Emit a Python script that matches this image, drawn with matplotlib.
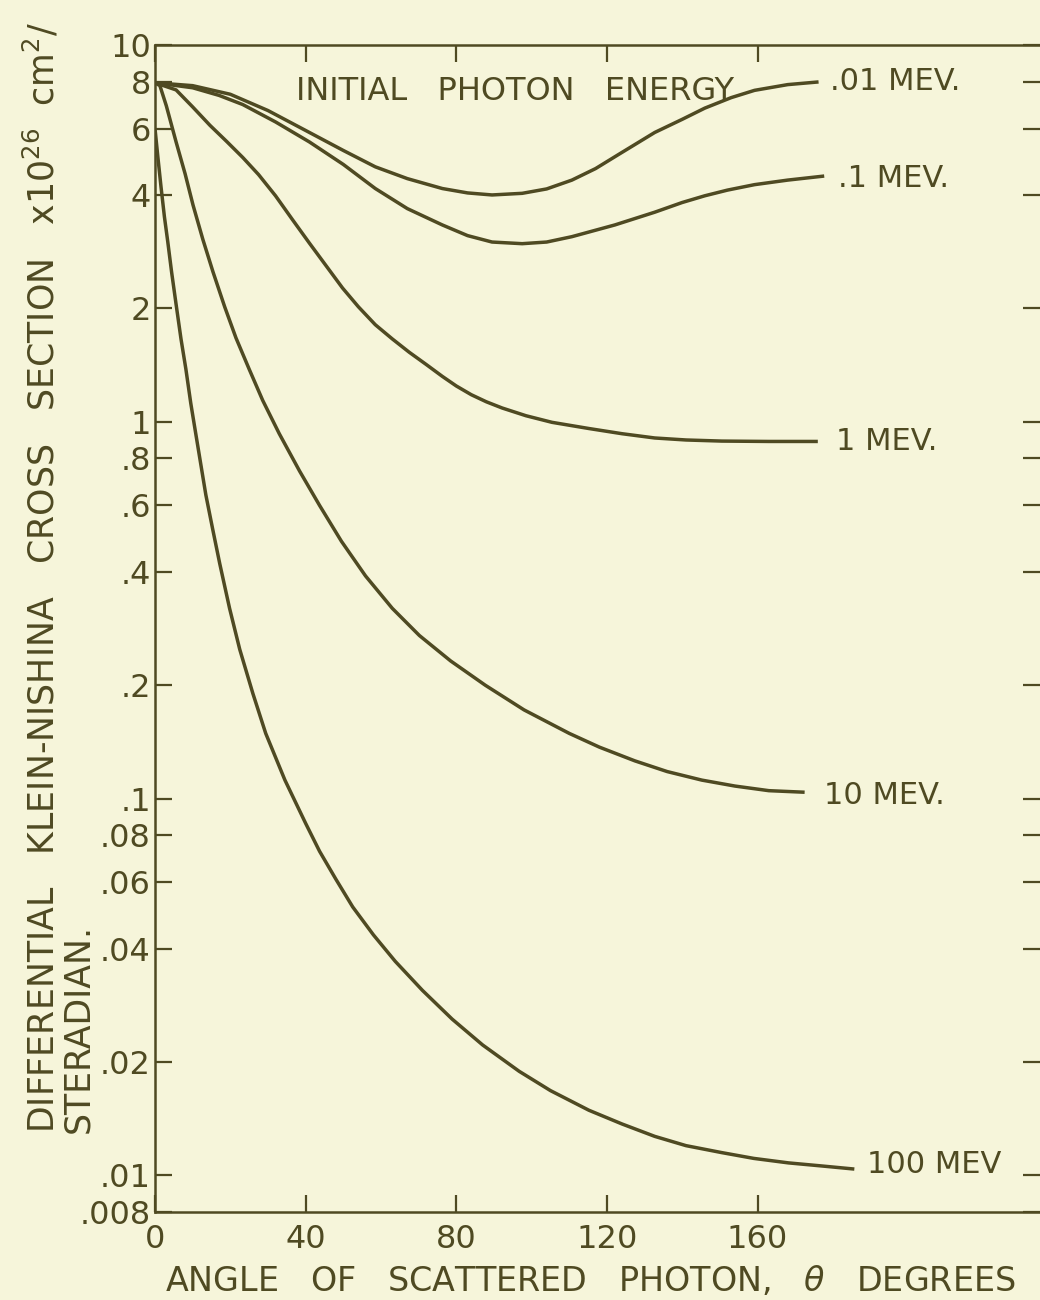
import numpy as np
import matplotlib.pyplot as plt
from matplotlib.ticker import NullLocator

# --------------------------------------------------
# Values (angle in degrees, cross section x 1e-26 cm^2/sr)
# --------------------------------------------------
angle_001 = [0, 10, 20, 30, 41, 50, 58.5, 67, 76.3, 83, 89.5, 97.5, 104, 110.7, 117, 123.2,
             132.7, 140, 146, 153, 159.2, 168, 176.2]
sigma_001 = [7.94, 7.8, 7.4, 6.7, 5.86, 5.25, 4.75, 4.42, 4.16, 4.05, 4.0, 4.04, 4.15, 4.38, 4.7, 5.13,
             5.86, 6.35, 6.8, 7.25, 7.58, 7.85, 7.98]

angle_01 = [0, 10, 17, 23.3, 32, 41, 50, 58.5, 67, 76.3, 83, 89.5, 97.5, 104, 110.7, 122.1,
            132.7, 140, 146, 152, 159.2, 168, 177.7]
sigma_01 = [7.94, 7.7, 7.35, 6.95, 6.25, 5.53, 4.82, 4.16, 3.68, 3.33, 3.12, 3.0, 2.97, 3.0, 3.10, 3.33,
            3.60, 3.82, 3.98, 4.12, 4.26, 4.38, 4.49]

angle_1 = [0, 5.6, 10, 14.6, 19, 23.3, 27.5, 32, 36.5, 41, 45.5, 49.8, 54, 58.5, 63, 67.5, 72,
           76.3, 80, 84, 88, 92.2, 98.5, 105.4, 115.2, 124, 132.7, 141, 150.5, 163, 176]
sigma_1 = [7.94, 7.6, 6.85, 6.12, 5.55, 5.03, 4.53, 3.98, 3.44, 2.98, 2.59, 2.265, 2.02, 1.81, 1.66, 1.53,
           1.42, 1.32, 1.245, 1.18, 1.13, 1.088, 1.038, 0.997, 0.96, 0.93, 0.906, 0.895, 0.889, 0.887,
           0.887]

angle_10 = [0, 1.3, 3, 5.6, 8, 10.1, 12.7, 15.4, 18.5, 21.5, 25, 28.6, 33, 38.4, 43.7, 49.5, 55.9,
            63, 70.2, 78.5, 87.7, 98, 110, 118, 127.4, 136, 145.2, 154, 163, 172.5]
sigma_10 = [7.94, 7.8, 6.9, 5.53, 4.55, 3.76, 3.05, 2.50, 2.02, 1.67, 1.38, 1.14, 0.93, 0.74, 0.60, 0.482,
            0.39, 0.32, 0.271, 0.232, 0.20, 0.172, 0.149, 0.137, 0.126, 0.118, 0.112, 0.108, 0.105,
            0.104]

angle_100 = [0, 0.8, 1.6, 2.5, 3.4, 4.4, 5.6, 6.9, 8.2, 9.5, 10.9, 13.5, 15.3, 17.2, 19.8, 22.5, 26,
             29.4, 34.5, 40, 43.7, 48, 52.5, 58, 63.8, 71, 78.9, 87, 96.7, 105, 115.2, 124, 132.7,
             141, 150.5, 159, 168.2, 177, 185.7]
sigma_100 = [6.0, 5.0, 4.2, 3.5, 3.0, 2.5, 2.05, 1.66, 1.38, 1.12, 0.92, 0.64, 0.52, 0.42, 0.32, 0.249,
             0.19, 0.149, 0.112, 0.086, 0.0725, 0.0612, 0.0516, 0.0435, 0.037, 0.031, 0.026, 0.0222,
             0.0189, 0.0168, 0.0149, 0.0137, 0.0127, 0.012, 0.0115, 0.0111, 0.0108, 0.0106, 0.0104]

energy_labels = [".01 MEV.", ".1 MEV.", "1 MEV.", "10 MEV.", "100 MEV"]

x_ticks = [0, 40, 80, 120, 160]
x_tick_labels = ["0", "40", "80", "120", "160"]
y_ticks = [10, 8, 6, 4, 2, 1, 0.8, 0.6, 0.4, 0.2, 0.1, 0.08, 0.06, 0.04, 0.02, 0.01, 0.008]
y_tick_labels = ["10", "8", "6", "4", "2", "1", ".8", ".6", ".4", ".2", ".1",
                 ".08", ".06", ".04", ".02", ".01", ".008"]

# --------------------------------------------------
# Figure
# --------------------------------------------------
ink = "#4f4a22"
paper = "#f6f5da"
W, H = 1040, 1300

fig = plt.figure(figsize=(W / 100, H / 100), dpi=100, facecolor=paper)
ax = fig.add_axes([155 / W, 1 - 1212 / H, 1 - 155 / W, (1212 - 45) / H])
ax.set_facecolor(paper)
ax.set_yscale("log")
ax.set_xlim(0, 235)
ax.set_ylim(0.008, 10)

curves = [
    (angle_001, sigma_001),
    (angle_01, sigma_01),
    (angle_1, sigma_1),
    (angle_10, sigma_10),
    (angle_100, sigma_100),
]
# label offsets from each curve end, in points
label_offsets = [(8, 0), (10, -2), (13, 0), (14, -2), (9, 3)]

for (angles, values), label, offset in zip(curves, energy_labels, label_offsets):
    ax.plot(angles, values, color=ink, lw=2.5, solid_capstyle="butt", solid_joinstyle="round")
    ax.annotate(label, xy=(angles[-1], values[-1]), xytext=offset,
                textcoords="offset points", ha="left", va="center",
                fontsize=22, color=ink)

# axes frame
for side in ["left", "bottom", "top"]:
    ax.spines[side].set_color(ink)
    ax.spines[side].set_linewidth(1.8)
ax.spines["right"].set_visible(False)

ax.set_xticks(x_ticks)
ax.set_xticklabels(x_tick_labels)
ax.set_yticks(y_ticks)
ax.set_yticklabels(y_tick_labels)
ax.yaxis.set_minor_locator(NullLocator())
ax.xaxis.set_minor_locator(NullLocator())

ax.tick_params(axis="x", direction="in", top=True, bottom=True, length=12, width=1.6,
               color=ink, labelcolor=ink, labelsize=23, pad=9)
ax.tick_params(axis="y", direction="in", left=True, right=True, length=12, width=1.6,
               color=ink, labelcolor=ink, labelsize=23, pad=3)

# --------------------------------------------------
# Text
# --------------------------------------------------
fig.text(296 / W, 1 - 91 / H, "INITIAL   PHOTON   ENERGY", fontsize=23, color=ink,
         ha="left", va="center")

fig.text(165 / W, 1 - 1281 / H, "ANGLE   OF   SCATTERED   PHOTON,   $\\theta$   DEGREES",
         fontsize=24, color=ink, ha="left", va="center")

fig.text(42 / W, 1 - 1133 / H,
         "DIFFERENTIAL   KLEIN-NISHINA   CROSS   SECTION   x10$^{26}$  cm$^{2}$/",
         fontsize=25, color=ink, rotation=90, ha="center", va="bottom")
fig.text(78 / W, 1 - 1133 / H, "STERADIAN.", fontsize=25, color=ink,
         rotation=90, ha="center", va="bottom")

fig.savefig("out.png", dpi=100, facecolor=paper)
